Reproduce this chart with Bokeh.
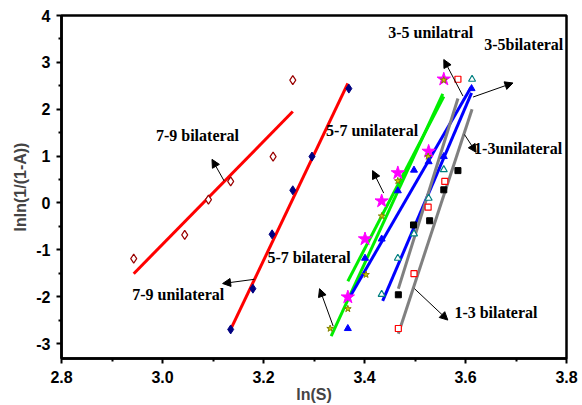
from bokeh.plotting import figure
from bokeh.models import (Range1d, FixedTicker, PrintfTickFormatter,
                          Label, Arrow, NormalHead)
from bokeh.embed import file_html
from bokeh.resources import INLINE

# ---------------- data ----------------
# 7-9 bilateral : open dark-red diamonds
b79_x = [2.943, 3.044, 3.091, 3.135, 3.219, 3.258]
b79_y = [-1.19, -0.68, 0.07, 0.46, 0.99, 2.62]
# 7-9 unilateral : filled navy diamonds
u79_x = [3.135, 3.179, 3.217, 3.258, 3.296, 3.369]
u79_y = [-2.70, -1.83, -0.67, 0.27, 0.99, 2.44]
# 5-7 unilateral : magenta stars
u57_x = [3.367, 3.401, 3.434, 3.466, 3.527, 3.557]
u57_y = [-2.01, -0.77, 0.04, 0.64, 1.10, 2.64]
# 5-7 bilateral : olive small stars
b57_x = [3.332, 3.367, 3.403, 3.434, 3.466, 3.526, 3.557]
b57_y = [-2.68, -2.26, -1.53, -0.28, 0.47, 0.99, 2.62]
# 3-5 unilateral : filled blue triangles
u35_x = [3.367, 3.401, 3.434, 3.466, 3.498, 3.527, 3.557, 3.612]
u35_y = [-2.68, -1.18, -0.77, 0.26, 0.70, 0.88, 0.99, 2.44]
# 3-5 bilateral : open teal triangles
b35_x = [3.434, 3.466, 3.498, 3.527, 3.557, 3.613]
b35_y = [-1.95, -1.18, -0.66, 0.10, 0.71, 2.64]
# 1-3 bilateral : open red squares
b13_x = [3.467, 3.498, 3.526, 3.559, 3.585]
b13_y = [-2.68, -1.51, -0.09, 0.46, 2.64]
# 1-3 unilateral : filled black squares
u13_x = [3.467, 3.497, 3.529, 3.557, 3.585]
u13_y = [-1.96, -0.47, -0.38, 0.28, 0.69]

# fitted lines (end points)
fit_b79_x = [2.943, 3.258]; fit_b79_y = [-1.51, 1.95]
fit_u79_x = [3.135, 3.367]; fit_u79_y = [-2.70, 2.55]
fit_g1_x = [3.334, 3.555];  fit_g1_y = [-2.84, 2.33]
fit_g2_x = [3.367, 3.557];  fit_g2_y = [-1.67, 2.27]
fit_bl1_x = [3.367, 3.611]; fit_bl1_y = [-2.08, 2.47]
fit_bl2_x = [3.436, 3.612]; fit_bl2_y = [-2.09, 2.35]
fit_gr1_x = [3.467, 3.585]; fit_gr1_y = [-1.83, 2.23]
fit_gr2_x = [3.467, 3.613]; fit_gr2_y = [-2.79, 2.00]

x_major_ticks = [2.8, 3.0, 3.2, 3.4, 3.6, 3.8]
x_minor_ticks = [2.9, 3.1, 3.3, 3.5, 3.7]
y_major_ticks = [-3, -2, -1, 0, 1, 2, 3, 4]
y_minor_ticks = [-2.5, -1.5, -0.5, 0.5, 1.5, 2.5, 3.5]

# annotations: text, x, y  and arrows: x0, y0, x1, y1
labels = [
    ("3-5 unilatral", 3.447, 3.63),
    ("3-5bilateral", 3.637, 3.39),
    ("1-3unilateral", 3.617, 1.17),
    ("1-3 bilateral", 3.578, -2.34),
    ("5-7 unilateral", 3.324, 1.54),
    ("5-7 bilateral", 3.208, -1.17),
    ("7-9 bilateral", 2.987, 1.43),
    ("7-9 unilateral", 2.940, -1.95),
]
arrows = [
    (3.595, 2.28, 3.557, 3.06),
    (3.615, 2.26, 3.694, 2.56),
    (3.598, 1.46, 3.621, 1.08),
    (3.499, -1.83, 3.565, -2.50),
    (3.438, 0.21, 3.416, 0.69),
    (3.338, -2.63, 3.311, -1.83),
    (3.122, 0.47, 3.098, 0.93),
    (3.182, -1.63, 3.119, -1.72),
]

# ---------------- figure ----------------
p = figure(width=582, height=405, output_backend="svg", toolbar_location=None,
           x_range=Range1d(2.8, 3.8), y_range=Range1d(-3.32, 4.0),
           min_border_left=61, min_border_right=16, min_border_top=15, min_border_bottom=45,
           background_fill_color="white", border_fill_color="white")
p.grid.visible = False
p.outline_line_color = "black"
p.outline_line_width = 2.5

for ax in (p.xaxis[0], p.yaxis[0]):
    ax.axis_line_width = 2.5
    ax.major_tick_line_width = 2
    ax.minor_tick_line_width = 2
    ax.major_tick_out = 5
    ax.major_tick_in = 0
    ax.minor_tick_out = 3
    ax.minor_tick_in = 0
    ax.major_label_text_font = "Liberation Sans"
    ax.major_label_text_font_style = "bold"
    ax.major_label_text_font_size = "16px"
    ax.major_label_text_color = "black"
    ax.axis_label_text_font = "Liberation Sans"
    ax.axis_label_text_font_style = "bold"
    ax.axis_label_text_font_size = "16px"

p.xaxis[0].ticker = FixedTicker(ticks=x_major_ticks, minor_ticks=x_minor_ticks)
p.xaxis[0].formatter = PrintfTickFormatter(format="%.1f")
p.xaxis[0].axis_label = "ln(S)"
p.xaxis[0].axis_label_standoff = 0
p.xaxis[0].major_label_standoff = 7

p.yaxis[0].ticker = FixedTicker(ticks=y_major_ticks, minor_ticks=y_minor_ticks)
p.yaxis[0].formatter = PrintfTickFormatter(format="%d")
p.yaxis[0].axis_label = "lnln(1/(1-A))"
p.yaxis[0].axis_label_standoff = 4
p.yaxis[0].major_label_standoff = 6

# fitted lines
for xs, ys, c in [(fit_b79_x, fit_b79_y, "#FF0000"), (fit_u79_x, fit_u79_y, "#FF0000"),
                  (fit_g1_x, fit_g1_y, "#00EE00"), (fit_g2_x, fit_g2_y, "#00EE00"),
                  (fit_bl1_x, fit_bl1_y, "#0000FF"), (fit_bl2_x, fit_bl2_y, "#0000FF"),
                  (fit_gr1_x, fit_gr1_y, "#808080"), (fit_gr2_x, fit_gr2_y, "#808080")]:
    p.line(xs, ys, line_color=c, line_width=3)

# markers
p.scatter(b79_x, b79_y, marker="diamond", size=9, fill_color="white", line_color="#990000", line_width=1.2)
p.scatter(u79_x, u79_y, marker="diamond", size=9, fill_color="#000080", line_color="#000080")
p.scatter(u57_x, u57_y, marker="star", size=14, fill_color="#FF00FF", line_color="#FF00FF")
p.scatter(b57_x, b57_y, marker="star", size=7, fill_color="#CCCC00", line_color="#808000", line_width=1)
p.scatter(u35_x, u35_y, marker="triangle", size=7, fill_color="#0000FF", line_color="#0000FF")
p.scatter(b35_x, b35_y, marker="triangle", size=7, fill_color="white", line_color="#008080", line_width=1.2)
p.scatter(b13_x, b13_y, marker="square", size=6, fill_color="white", line_color="#FF0000", line_width=1.2)
p.scatter(u13_x, u13_y, marker="square", size=6, fill_color="black", line_color="black")

for x0, y0, x1, y1 in arrows:
    p.add_layout(Arrow(end=NormalHead(size=8, fill_color="black", line_color="black", line_width=1),
                       x_start=x0, y_start=y0, x_end=x1, y_end=y1,
                       line_color="black", line_width=1))

for t, x, y in labels:
    p.add_layout(Label(x=x, y=y, text=t, text_font="Liberation Serif", text_font_style="bold",
                       text_font_size="16px", text_baseline="middle", text_align="left",
                       text_color="black"))

open("out.html", "w").write(file_html(p, INLINE))
